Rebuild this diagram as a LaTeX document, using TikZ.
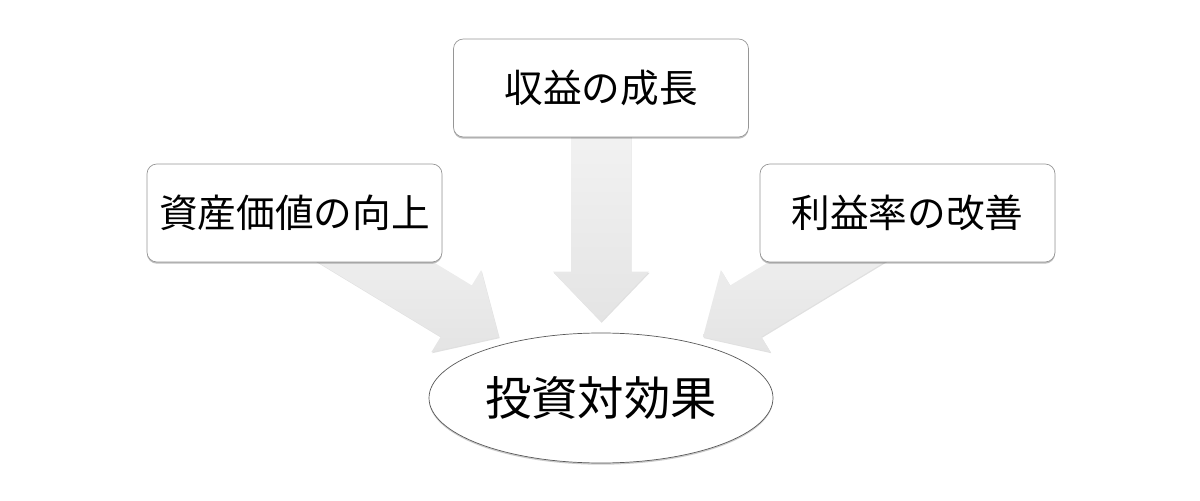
\documentclass[tikz,border=0pt]{standalone}
\usepackage{fontspec}
\newfontfamily\jpfont{Noto Sans CJK JP}
\usepackage{tikz}
\usetikzlibrary{calc,positioning,backgrounds,shadows,shapes.geometric}
\definecolor{boxline}{RGB}{150,150,150}
\definecolor{arrowlight}{RGB}{245,245,245}
\definecolor{arrowdark}{RGB}{228,228,228}
\tikzset{
  factor/.style={rectangle, rounded corners=7pt, draw=boxline, fill=white,
                 line width=0.5pt, minimum width=7.375cm, minimum height=2.45cm,
                 inner sep=0pt, font=\jpfont\fontsize{27.5}{30}\selectfont,
                 drop shadow={shadow xshift=0pt, shadow yshift=-1.2pt,
                              fill=black, opacity=0.25}},
  result/.style={ellipse, draw=black!65, fill=white, line width=0.5pt,
                 minimum width=8.6cm, minimum height=3.25cm, inner sep=0pt,
                 font=\jpfont\fontsize{33}{36}\selectfont,
                 drop shadow={shadow xshift=0pt, shadow yshift=-1.2pt,
                              fill=black, opacity=0.2}},
  arrowbody/.style={top color=arrowlight, bottom color=arrowdark,
                    drop shadow={shadow xshift=0.5pt, shadow yshift=-0.8pt,
                                 fill=black, opacity=0.12}},
}
% fat block arrow from the centre of a node to a tip coordinate
\newcommand{\fatarrow}[2]{%
  \coordinate (fa-base) at ($(#2)!1.25cm!(#1.center)$);
  \path[arrowbody]
    ($(#1.center)!0.75cm!90:(#2)$) -- ($(fa-base)!0.75cm!90:(#2)$)
    -- ($(fa-base)!1.2cm!90:(#2)$) -- (#2)
    -- ($(fa-base)!1.2cm!-90:(#2)$) -- ($(fa-base)!0.75cm!-90:(#2)$)
    -- ($(#1.center)!0.75cm!-90:(#2)$) -- cycle;
}

\begin{document}
\begin{tikzpicture}
  \useasboundingbox (0,0) rectangle (30,12.5);

  \node[factor] (growth) at (15.025,10.3)  {収益の成長};
  \node[factor] (asset)  at (7.3625,7.175) {資産価値の向上};
  \node[factor] (margin) at (22.6875,7.175) {利益率の改善};
  \node[result] (roi)    at (15.025,2.55)  {投資対効果};

  % ---- arrow tips sit just above the ellipse -------------------------------
  \coordinate (tipA) at ($(roi.center)+(-2.55,1.525)$);
  \coordinate (tipB) at ($(roi.north)+(0,0.275)$);
  \coordinate (tipC) at ($(roi.center)+(2.55,1.525)$);

  \begin{scope}[on background layer]
    \fatarrow{asset}{tipA}
    \fatarrow{growth}{tipB}
    \fatarrow{margin}{tipC}
  \end{scope}
\end{tikzpicture}
\end{document}
